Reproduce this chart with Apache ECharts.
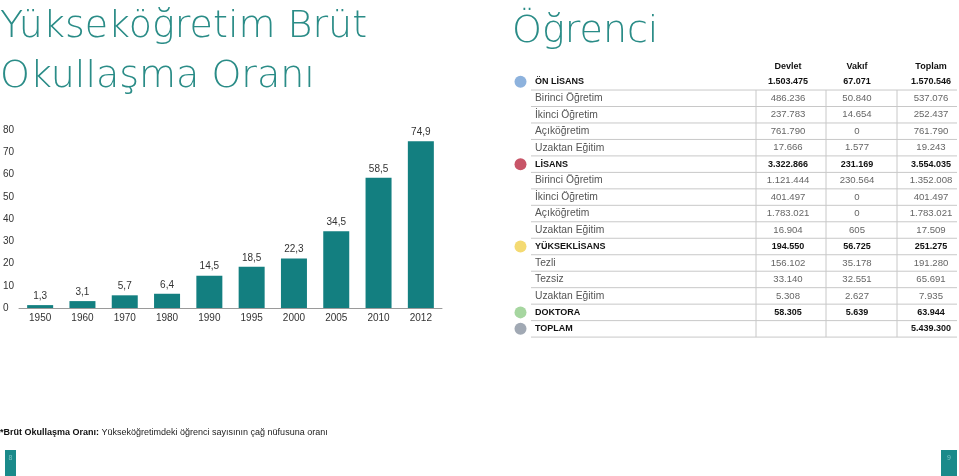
<!DOCTYPE html>
<html>
<head>
<meta charset="utf-8">
<script src="https://cdn.jsdelivr.net/npm/echarts@6/dist/echarts.min.js"></script>
<style>
html,body{margin:0;padding:0;background:#fff;}
#main{width:959px;height:476px;}
</style>
</head>
<body>
<div id="main"></div>
<script>
// ---- Bar chart data ----
var years = ['1950','1960','1970','1980','1990','1995','2000','2005','2010','2012'];
var rates = [1.3, 3.1, 5.7, 6.4, 14.5, 18.5, 22.3, 34.5, 58.5, 74.9];
var yTicks = [0, 10, 20, 30, 40, 50, 60, 70, 80];

// ---- Table data ----
var colHeaders = ['Devlet', 'Vakıf', 'Toplam'];
var rowLabels = ['ÖN LİSANS','Birinci Öğretim','İkinci Öğretim','Açıköğretim','Uzaktan Eğitim',
  'LİSANS','Birinci Öğretim','İkinci Öğretim','Açıköğretim','Uzaktan Eğitim',
  'YÜKSEKLİSANS','Tezli','Tezsiz','Uzaktan Eğitim','DOKTORA','TOPLAM'];
var rowIsGroup = [true,false,false,false,false,true,false,false,false,false,true,false,false,false,true,true];
var devlet = [1503475,486236,237783,761790,17666,3322866,1121444,401497,1783021,16904,194550,156102,33140,5308,58305,null];
var vakif  = [67071,50840,14654,0,1577,231169,230564,0,0,605,56725,35178,32551,2627,5639,null];
var toplam = [1570546,537076,252437,761790,19243,3554035,1352008,401497,1783021,17509,251275,191280,65691,7935,63944,5439300];

var titleLines = ['Yükseköğretim Brüt', 'Okullaşma Oranı'];
var tableTitle = 'Öğrenci';
var footBold = '*Brüt Okullaşma Oranı:';
var footText = ' Yükseköğretimdeki öğrenci sayısının çağ nüfusuna oranı';
var pageNums = ['8', '9'];

// ---- styles ----
var TEAL = '#137f80';
var TITLE_COLOR = '#2a8c87';
var groupColors = ['#8db2dd', '#c85568', '#f4da72', '#a6d6a0', '#a1a9b4'];
var FONT = 'Liberation Sans, Arial, sans-serif';
var TFONT = '200 38px "DejaVu Sans", Lato, sans-serif';

function fmt(v){
  if (v === null || v === undefined) return '';
  return String(v).replace(/\B(?=(\d{3})+(?!\d))/g, '.');
}

var chart = echarts.init(document.getElementById('main'), null, {renderer:'canvas'});

var graphics = [];
// Titles
titleLines.forEach(function(t, i){
  graphics.push({type:'text', x: 0, y: 27 + i*50, style:{text:t, fill:TITLE_COLOR, font:TFONT, verticalAlign:'middle'}});
});
graphics.push({type:'text', x: 512, y: 32.5, style:{text:tableTitle, fill:TITLE_COLOR, font:TFONT, verticalAlign:'middle'}});

// Table
var rowY0 = 81.8, rowH = 16.47;
var colX = [788, 857, 931];
var lineX0 = 531, lineX1 = 957;
var vLines = [756, 826, 897];
colHeaders.forEach(function(h, j){
  graphics.push({type:'text', x: colX[j], y: rowY0 - rowH + 1, style:{text:h, fill:'#111', font:'bold 9px '+FONT, align:'center', verticalAlign:'middle'}});
});
var gi = 0;
rowLabels.forEach(function(lbl, i){
  var y = rowY0 + i*rowH;
  var bold = rowIsGroup[i];
  if (bold) {
    graphics.push({type:'circle', shape:{cx:520.5, cy:y, r:6}, style:{fill:groupColors[gi]}});
    gi++;
  }
  graphics.push({type:'text', x: 535, y: y, style:{text:lbl, fill: bold ? '#111' : '#555', font:(bold?'bold 9px ':'10.3px ')+FONT, verticalAlign:'middle'}});
  [devlet[i], vakif[i], toplam[i]].forEach(function(v, j){
    graphics.push({type:'text', x: colX[j], y: y, style:{text:fmt(v), fill: bold ? '#111' : '#666', font:(bold?'bold 9px ':'9.6px ')+FONT, align:'center', verticalAlign:'middle'}});
  });
  graphics.push({type:'line', shape:{x1:lineX0, y1:y+rowH/2, x2:lineX1, y2:y+rowH/2}, style:{stroke:'#c8c8c8', lineWidth:1}});
});
var vTop = rowY0 + rowH/2, vBot = rowY0 + (rowLabels.length-0.5)*rowH;
vLines.forEach(function(x){
  graphics.push({type:'line', shape:{x1:x, y1:vTop, x2:x, y2:vBot}, style:{stroke:'#c8c8c8', lineWidth:1}});
});

// Footer
graphics.push({type:'text', x: 0, y: 433, style:{
  text:'{b|'+footBold+'}{n|'+footText+'}', verticalAlign:'middle',
  rich:{b:{font:'bold 9px '+FONT, fill:'#111'}, n:{font:'9px '+FONT, fill:'#222'}}
}});
// page markers
graphics.push({type:'rect', shape:{x:5, y:450, width:11, height:26}, style:{fill:'#1a8a8a'}});
graphics.push({type:'text', x:10.5, y:458, style:{text:pageNums[0], fill:'#7cc4c4', font:'7px '+FONT, align:'center', verticalAlign:'middle'}});
graphics.push({type:'rect', shape:{x:941, y:450, width:16, height:26}, style:{fill:'#1a8a8a'}});
graphics.push({type:'text', x:949, y:458, style:{text:pageNums[1], fill:'#7cc4c4', font:'7px '+FONT, align:'center', verticalAlign:'middle'}});

var option = {
  backgroundColor:'#fff',
  animation:false,
  grid:{left:16, top:130, width:426, height:178},
  xAxis:{
    type:'category', data: years,
    axisLine:{lineStyle:{color:'#9a9a9a', width:1}},
    axisTick:{show:false},
    axisLabel:{color:'#333', fontSize:10, fontFamily:FONT, margin:5}
  },
  yAxis:{
    type:'value', min:yTicks[0], max:yTicks[yTicks.length-1], interval: yTicks[1]-yTicks[0],
    axisLine:{show:false}, axisTick:{show:false}, splitLine:{show:false},
    axisLabel:{color:'#333', fontSize:10, fontFamily:FONT, align:'left', margin:16}
  },
  series:[{
    type:'bar', data: rates, barWidth:26,
    itemStyle:{color:TEAL},
    label:{show:true, position:'top', distance:4, color:'#333', fontSize:10, fontFamily:FONT,
      formatter:function(p){ return String(p.value).replace('.', ','); }}
  }],
  graphic: graphics
};
chart.setOption(option);
</script>
</body>
</html>
